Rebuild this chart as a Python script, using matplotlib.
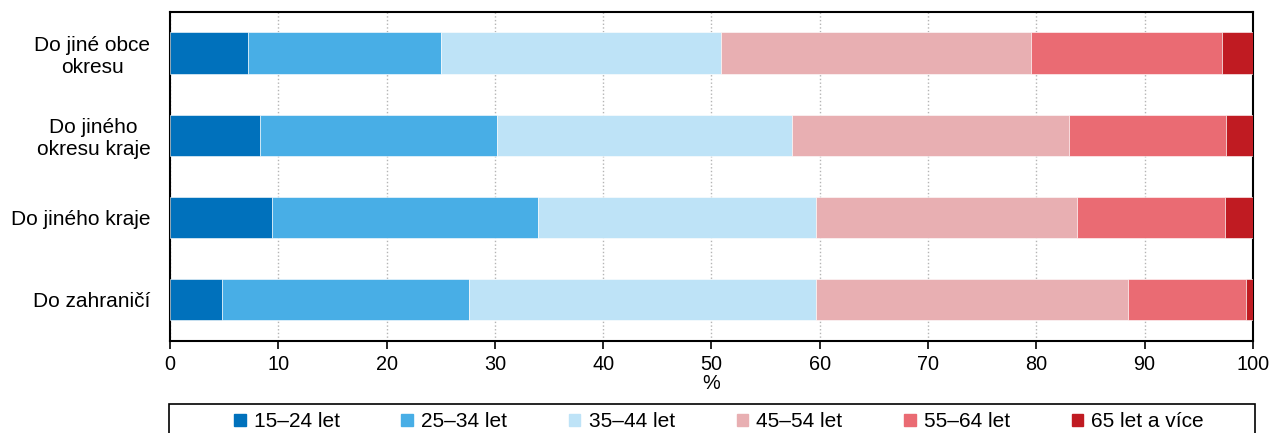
import matplotlib.pyplot as plt
import matplotlib.patches as mpatches
import numpy as np

plt.rcParams['font.family'] = ['Liberation Sans', 'DejaVu Sans']

# Data (shares in %)
kategorie = ['Do jiné obce\nokresu', 'Do jiného\nokresu kraje', 'Do jiného kraje', 'Do zahraničí']
skupiny = ['15–24 let', '25–34 let', '35–44 let', '45–54 let', '55–64 let', '65 let a více']
v_15_24 = [7.2, 8.3, 9.4, 4.8]
v_25_34 = [17.8, 21.9, 24.6, 22.8]
v_35_44 = [25.9, 27.2, 25.7, 32.1]
v_45_54 = [28.6, 25.6, 24.1, 28.8]
v_55_64 = [17.6, 14.5, 13.6, 10.9]
v_65_plus = [2.9, 2.5, 2.6, 0.6]
barvy = ['#0071bc', '#48aee6', '#bee3f7', '#e8afb2', '#ea6b73', '#c01b22']

serie = [v_15_24, v_25_34, v_35_44, v_45_54, v_55_64, v_65_plus]

fig = plt.figure(figsize=(12.72, 4.33), dpi=100)
ax = fig.add_axes([0.1336, 0.2125, 0.8514, 0.76])

y = np.arange(len(kategorie))
left = np.zeros(len(kategorie))
for hodnoty, barva, nazev in zip(serie, barvy, skupiny):
    ax.barh(y, hodnoty, left=left, height=0.5, color=barva, label=nazev,
            edgecolor='white', linewidth=0.4, zorder=3)
    left += np.array(hodnoty)

ax.set_xlim(0, 100)
ax.set_ylim(3.5, -0.5)
ax.set_yticks(y)
ax.set_yticklabels(kategorie, fontsize=15, multialignment='center')
ax.set_xticks(np.arange(0, 101, 10))
ax.tick_params(axis='x', labelsize=14.3, direction='out', length=6, width=1.2, pad=4)
ax.tick_params(axis='y', length=0, pad=14)
ax.xaxis.grid(True, linestyle=':', color='#b4b4b4', linewidth=1, zorder=0)
ax.set_axisbelow(True)
for s in ax.spines.values():
    s.set_linewidth(1.5)
ax.set_xlabel('%', fontsize=14.3, labelpad=0)

# legend
handles = [mpatches.Patch(color=c, label=n) for c, n in zip(barvy, skupiny)]
fig.legend(handles=handles, loc='center left', bbox_to_anchor=(0.184, 0.026, 0.7626, 0.0),
           mode='expand', ncol=6, frameon=False, fontsize=15, borderpad=0,
           borderaxespad=0, handlelength=0.55, handleheight=0.55, handletextpad=0.4)
fig.patches.append(mpatches.Rectangle((169 / 1272, -0.1), 1086 / 1272, 0.1 + (1 - 404 / 433),
                                      transform=fig.transFigure, fill=False,
                                      edgecolor='black', linewidth=1.2))

fig.savefig('out.png', dpi=100)
